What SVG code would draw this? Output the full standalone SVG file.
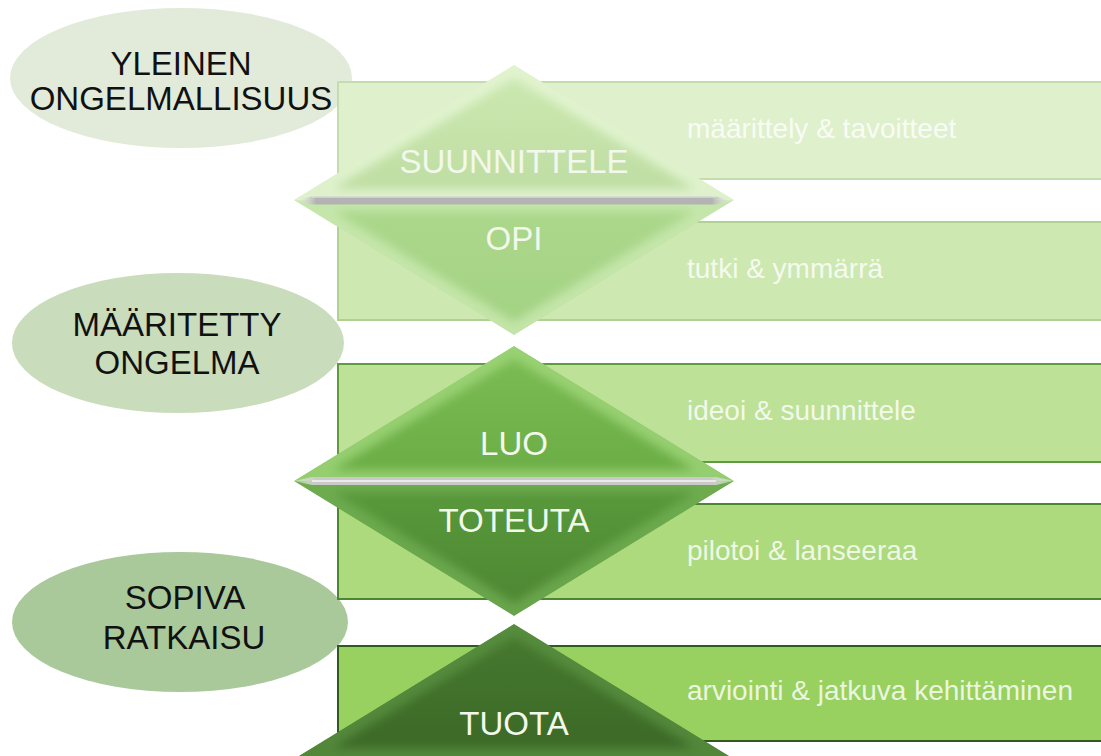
<svg xmlns="http://www.w3.org/2000/svg" width="1101" height="756" viewBox="0 0 1101 756">
  <style>
    .oval-label { font-family: "Liberation Sans", Arial, sans-serif; font-size: 33px; fill: #111; text-anchor: middle; }
    .phase { font-family: "Liberation Sans", Arial, sans-serif; font-size: 33px; fill: #f2f8ec; text-anchor: middle; }
    .step { font-family: "Liberation Sans", Arial, sans-serif; font-size: 28px; fill: #ffffff; fill-opacity: 0.82; }
    .band { stroke-width: 2; }
    .bevel { fill: none; stroke-width: 22; stroke-linejoin: miter; filter: url(#soft); }
  </style>
  <defs>
    <filter id="soft" x="-10%" y="-10%" width="120%" height="120%">
      <feGaussianBlur stdDeviation="5"/>
    </filter>
    <linearGradient id="sepA" x1="0" y1="0" x2="1" y2="0">
      <stop offset="0" stop-color="#ffffff" stop-opacity="0.2"/>
      <stop offset="0.05" stop-color="#b3b3b3"/>
      <stop offset="0.95" stop-color="#b3b3b3"/>
      <stop offset="1" stop-color="#ffffff" stop-opacity="0.2"/>
    </linearGradient>
    <linearGradient id="sepB" x1="0" y1="0" x2="1" y2="0">
      <stop offset="0" stop-color="#ffffff" stop-opacity="0.3"/>
      <stop offset="0.05" stop-color="#c9c9c9"/>
      <stop offset="0.95" stop-color="#c9c9c9"/>
      <stop offset="1" stop-color="#ffffff" stop-opacity="0.3"/>
    </linearGradient>
    <linearGradient id="g1top" x1="0" y1="0" x2="0" y2="1">
      <stop offset="0" stop-color="#cde9b2"/>
      <stop offset="1" stop-color="#bedda2"/>
    </linearGradient>
    <linearGradient id="g1bot" x1="0" y1="0" x2="0" y2="1">
      <stop offset="0" stop-color="#acd88c"/>
      <stop offset="1" stop-color="#a3d283"/>
    </linearGradient>
    <linearGradient id="g2top" x1="0" y1="0" x2="0" y2="1">
      <stop offset="0" stop-color="#7dbd55"/>
      <stop offset="1" stop-color="#6aac45"/>
    </linearGradient>
    <linearGradient id="g2bot" x1="0" y1="0" x2="0" y2="1">
      <stop offset="0" stop-color="#5a9a3c"/>
      <stop offset="1" stop-color="#4c8632"/>
    </linearGradient>
    <linearGradient id="g3top" x1="0" y1="0" x2="0" y2="1">
      <stop offset="0" stop-color="#477a30"/>
      <stop offset="1" stop-color="#3b6826"/>
    </linearGradient>
    <clipPath id="c1t"><polygon points="514,65 734,200 294,200"/></clipPath>
    <clipPath id="c1b"><polygon points="294,200 734,200 514,335"/></clipPath>
    <clipPath id="c2t"><polygon points="514,346 734,481 294,481"/></clipPath>
    <clipPath id="c2b"><polygon points="294,481 734,481 514,616"/></clipPath>
    <clipPath id="c3t"><polygon points="514,624 734,759 294,759"/></clipPath>
  </defs>

  <rect width="1101" height="756" fill="#ffffff"/>

  <!-- state ovals on the left -->
  <g id="oval-yleinen">
    <ellipse cx="181" cy="78" rx="171" ry="70" fill="#e2ebda"/>
    <text class="oval-label" x="181" y="75">YLEINEN</text>
    <text class="oval-label" x="181" y="110">ONGELMALLISUUS</text>
  </g>
  <g id="oval-maaritetty">
    <ellipse cx="178" cy="343" rx="166" ry="70" fill="#c9dcbb"/>
    <text class="oval-label" x="177" y="336">MÄÄRITETTY</text>
    <text class="oval-label" x="177" y="374">ONGELMA</text>
  </g>
  <g id="oval-sopiva">
    <ellipse cx="180" cy="622" rx="168" ry="70" fill="#aac99b"/>
    <text class="oval-label" x="185" y="609">SOPIVA</text>
    <text class="oval-label" x="184" y="649">RATKAISU</text>
  </g>

  <!-- activity bands -->
  <g id="band-maarittely">
    <rect class="band" x="338" y="82" width="764" height="97" fill="#dff0cc" stroke="#c4dcae"/>
    <text class="step" x="687" y="138">määrittely &amp; tavoitteet</text>
  </g>
  <g id="band-tutki">
    <rect class="band" x="338" y="222" width="764" height="98" fill="#cde8b1" stroke="#b1d193"/>
    <text class="step" x="687" y="278">tutki &amp; ymmärrä</text>
  </g>
  <g id="band-ideoi">
    <rect class="band" x="338" y="364" width="764" height="98" fill="#bde197" stroke="#5f9c40"/>
    <text class="step" x="687" y="420">ideoi &amp; suunnittele</text>
  </g>
  <g id="band-pilotoi">
    <rect class="band" x="338" y="504" width="764" height="95" fill="#acda7c" stroke="#4b8731"/>
    <text class="step" x="687" y="560">pilotoi &amp; lanseeraa</text>
  </g>
  <g id="band-arviointi">
    <rect class="band" x="338" y="646" width="764" height="95" fill="#98d160" stroke="#2f5c1e"/>
    <text class="step" x="687" y="700">arviointi &amp; jatkuva kehittäminen</text>
  </g>

  <!-- phase diamonds -->
  <g id="phase-suunnittele">
    <g clip-path="url(#c1t)">
      <polygon points="514,65 734,200 294,200" fill="url(#g1top)"/>
      <polygon class="bevel" points="514,65 734,200 294,200" stroke="#e6f6d6" stroke-opacity="0.8"/>
    </g>
    <text class="phase" x="514" y="173">SUUNNITTELE</text>
  </g>
  <g id="phase-opi">
    <g clip-path="url(#c1b)">
      <polygon points="294,200 734,200 514,335" fill="url(#g1bot)"/>
      <polygon class="bevel" points="294,200 734,200 514,335" stroke="#d0ecb8" stroke-opacity="0.7"/>
    </g>
    <text class="phase" x="514" y="250">OPI</text>
  </g>
  <g id="divider-1">
    <polygon points="294,200.5 312,196.5 716,196.5 734,200.5 716,204.5 312,204.5" fill="url(#sepA)"/>
    <line x1="312" y1="197" x2="716" y2="197" stroke="#e8e8e8" stroke-width="1"/>
  </g>

  <g id="phase-luo">
    <g clip-path="url(#c2t)">
      <polygon points="514,346 734,481 294,481" fill="url(#g2top)"/>
      <polygon class="bevel" points="514,346 734,481 294,481" stroke="#a2d87c" stroke-opacity="0.75"/>
    </g>
    <text class="phase" x="514" y="455">LUO</text>
  </g>
  <g id="phase-toteuta">
    <g clip-path="url(#c2b)">
      <polygon points="294,481 734,481 514,616" fill="url(#g2bot)"/>
      <polygon class="bevel" points="294,481 734,481 514,616" stroke="#7cb85a" stroke-opacity="0.6"/>
    </g>
    <text class="phase" x="514" y="532">TOTEUTA</text>
  </g>
  <g id="divider-2">
    <polygon points="294,481 312,477 716,477 734,481 716,485 312,485" fill="url(#sepB)"/>
    <line x1="312" y1="481" x2="716" y2="481" stroke="#f4f4f4" stroke-width="1.5"/>
  </g>

  <g id="phase-tuota">
    <g clip-path="url(#c3t)">
      <polygon points="514,624 734,759 294,759" fill="url(#g3top)"/>
      <polygon class="bevel" points="514,624 734,759 294,759" stroke="#5d9444" stroke-opacity="0.7"/>
    </g>
    <text class="phase" x="514" y="735">TUOTA</text>
  </g>
</svg>
